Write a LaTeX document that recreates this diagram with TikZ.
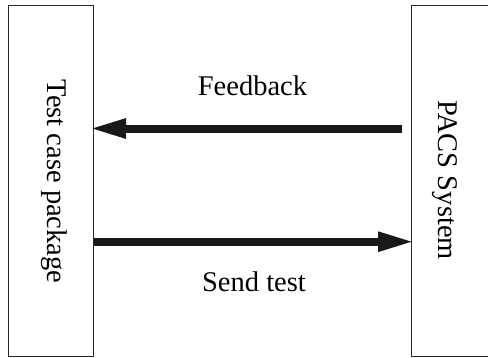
\documentclass[tikz,border=0pt]{standalone}
\usepackage{fontspec}
\setmainfont{Liberation Serif}
\usetikzlibrary{arrows.meta}
\begin{document}
\begin{tikzpicture}[x=1pt,y=-1pt,
  box/.style={draw=black!85,line width=1pt,inner sep=0pt,minimum width=#1,minimum height=351pt},
  lbl/.style={font=\fontsize{28.5}{34}\selectfont,inner sep=0pt,anchor=base},
  bigarrow/.style={line width=8pt,draw=black!90,shorten >=-4.5pt,-{Triangle[length=37pt,width=18pt]}}]
\useasboundingbox (0,0) rectangle (488,357);
\node[box=85pt] (tcp) at (50.5,180.5) {};
\node[box=100pt] (pacs) at (461,180.5) {};
\node[lbl,rotate=-90] (tcpl) at (47.5,181.5) {Test case package};
\node[lbl,rotate=-90] (pacsl) at (438,180) {PACS System};
\node[lbl] (fb) at (252.5,95.7) {Feedback};
\node[lbl] (st) at (254,291.7) {Send test};
\coordinate (fbs) at ([xshift=-9pt]pacs.west |- 0,128.5);
\coordinate (fbe) at (tcp.east |- 0,128.5);
\coordinate (sts) at (tcp.east |- 0,241.7);
\coordinate (ste) at (pacs.west |- 0,241.7);
\draw[bigarrow] (fbs) -- (fbe);
\draw[bigarrow] (sts) -- (ste);
\end{tikzpicture}
\end{document}
